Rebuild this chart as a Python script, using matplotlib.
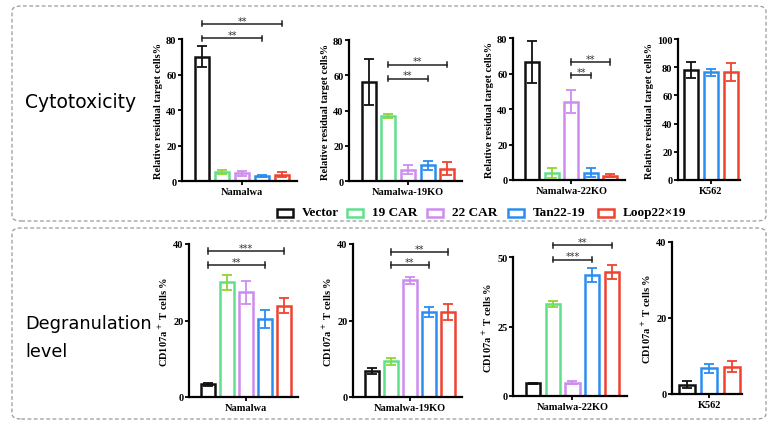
import matplotlib.pyplot as plt
from matplotlib.patches import FancyBboxPatch, Rectangle

W, H = 776, 427

groups = ["Vector", "19 CAR", "22 CAR", "Tan22-19", "Loop22×19"]
colors = ["#111111", "#5ee08c", "#cf8cf0", "#2a8ef0", "#f0432e"]
err_colors = ["#111111", "#8fd633", "#cf8cf0", "#2a8ef0", "#f0432e"]

# %% Cytotoxicity (relative residual target cells %)
cyto_namalwa = [70, 5, 4.3, 3, 3.6]
cyto_namalwa_err = [6, 1.3, 1.5, 0.5, 1.4]
cyto_19ko = [56, 37, 6.5, 9, 7]
cyto_19ko_err = [13, 1, 2.5, 2.5, 3.5]
cyto_22ko = [66.5, 4, 44, 4, 2.5]
cyto_22ko_err = [12, 3, 6.5, 2.5, 0.8]
cyto_k562 = [78, 76.5, 76.5]
cyto_k562_err = [5.5, 2.5, 6.5]

# %% Degranulation (CD107a+ T cells %)
degr_namalwa = [3.3, 30, 27.4, 20.4, 23.9]
degr_namalwa_err = [0.3, 2, 3, 2.3, 2]
degr_19ko = [6.8, 9.3, 30.5, 22.3, 22.2]
degr_19ko_err = [0.8, 1, 1, 1.3, 2]
degr_22ko = [4.5, 33, 4.8, 43.5, 44.5]
degr_22ko_err = [0.3, 1, 0.5, 2.5, 2.5]
degr_k562 = [2.5, 6.8, 7.2]
degr_k562_err = [1, 1.2, 1.5]

k562_groups = [0, 3, 4]

serif = "Liberation Serif"


def px_axes(fig, x0, x1, ytop, ybot):
    return fig.add_axes([x0 / W, 1 - ybot / H, (x1 - x0) / W, (ybot - ytop) / H])


def bracket(ax, i, j, y, label, ymax):
    tick = ymax * 0.018
    ax.plot([i, j], [y, y], color="#222222", lw=1.1, clip_on=False)
    for x in (i, j):
        ax.plot([x, x], [y - tick, y + tick], color="#222222", lw=1.1, clip_on=False)
    ax.text((i + j) / 2, y - ymax * 0.012, label, ha="center", va="bottom",
            fontsize=7, color="#333333", clip_on=False)


def draw_panel(ax, vals, errs, idx, ylim, yticks, ylabel, xlabel, sigs):
    n = len(vals)
    for k, (v, e, g) in enumerate(zip(vals, errs, idx)):
        ax.bar(k, v, width=0.72, color="white", edgecolor=colors[g], linewidth=1.8, zorder=2)
        ax.errorbar(k, v, yerr=e, color=err_colors[g], capsize=3.5, elinewidth=1.3,
                    capthick=1.3, zorder=3)
    ax.set_ylim(*ylim)
    ax.set_yticks(yticks)
    if n == 5:
        ax.set_xlim(-1.0, 4.75)
    else:
        ax.set_xlim(-0.65, 2.45)
    ax.set_xticks([(n - 1) / 2])
    ax.set_xticklabels([xlabel], fontfamily=serif, fontweight="bold", fontsize=8.5)
    ax.set_ylabel(ylabel, fontfamily=serif, fontweight="bold", fontsize=7.5, labelpad=2)
    for s in ("top", "right"):
        ax.spines[s].set_visible(False)
    for s in ("left", "bottom"):
        ax.spines[s].set_linewidth(1.6)
    ax.tick_params(width=1.3, length=3, labelsize=7.5, pad=1)
    for lab in ax.get_yticklabels():
        lab.set_fontfamily(serif)
        lab.set_fontweight("bold")
    for i, j, y, label in sigs:
        bracket(ax, i, j, y, label, ylim[1])


fig = plt.figure(figsize=(W / 100, H / 100), dpi=100)

# dashed frames
for (x0, y0, x1, y1) in [(12, 7, 766, 222), (12, 229, 766, 420)]:
    fig.patches.append(FancyBboxPatch((x0 / W, 1 - y1 / H), (x1 - x0) / W, (y1 - y0) / H,
                                      boxstyle="round,pad=0,rounding_size=0.012",
                                      transform=fig.transFigure, fill=False,
                                      edgecolor="#999999", linestyle=(0, (3, 2)), lw=0.9))

fig.text(25 / W, 1 - 103 / H, "Cytotoxicity", fontsize=13.5, va="center", ha="left",
         family="DejaVu Sans")
fig.text(25 / W, 1 - 338 / H, "Degranulation\nlevel", fontsize=12.8, va="center", ha="left",
         family="DejaVu Sans", linespacing=1.7)

cy_label = "Relative residual target cells%"
cd_label = "CD107a$^+$ T cells %"

ax = px_axes(fig, 182, 297, 40, 182)
draw_panel(ax, cyto_namalwa, cyto_namalwa_err, range(5), (0, 80), [0, 20, 40, 60, 80],
           cy_label, "Namalwa", [(0, 3, 80.5, "**"), (0, 4, 88.5, "**")])
ax = px_axes(fig, 349, 462, 41, 182)
draw_panel(ax, cyto_19ko, cyto_19ko_err, range(5), (0, 80), [0, 20, 40, 60, 80],
           cy_label, "Namalwa-19KO", [(1, 3, 58, "**"), (1, 4, 66, "**")])
ax = px_axes(fig, 513, 625, 39, 181)
draw_panel(ax, cyto_22ko, cyto_22ko_err, range(5), (0, 80), [0, 20, 40, 60, 80],
           cy_label, "Namalwa-22KO", [(2, 3, 59, "**"), (2, 4, 66.5, "**")])
ax = px_axes(fig, 678, 740, 40, 181)
draw_panel(ax, cyto_k562, cyto_k562_err, k562_groups, (0, 100), [0, 20, 40, 60, 80, 100],
           cy_label, "K562", [])

ax = px_axes(fig, 189, 298, 245, 398)
draw_panel(ax, degr_namalwa, degr_namalwa_err, range(5), (0, 40), [0, 20, 40],
           cd_label, "Namalwa", [(0, 3, 34.5, "**"), (0, 4, 38.2, "***")])
ax = px_axes(fig, 353, 462, 245, 398)
draw_panel(ax, degr_19ko, degr_19ko_err, range(5), (0, 40), [0, 20, 40],
           cd_label, "Namalwa-19KO", [(1, 3, 34.5, "**"), (1, 4, 37.9, "**")])
ax = px_axes(fig, 513, 627, 258, 397)
draw_panel(ax, degr_22ko, degr_22ko_err, range(5), (0, 50), [0, 25, 50],
           cd_label, "Namalwa-22KO", [(1, 3, 49, "***"), (1, 4, 54.3, "**")])
ax = px_axes(fig, 672, 742, 243, 395)
draw_panel(ax, degr_k562, degr_k562_err, k562_groups, (0, 40), [0, 20, 40],
           cd_label, "K562", [])

# legend
box_x = [277, 347, 427, 508, 598]
text_x = [302, 372, 452, 533, 623]
for g, bx, tx in zip(range(5), box_x, text_x):
    fig.patches.append(Rectangle((bx / W, 1 - 218 / H), 16 / W, 8 / H, transform=fig.transFigure,
                                 fill=False, edgecolor=colors[g], lw=1.8))
    fig.text(tx / W, 1 - 213 / H, groups[g], fontsize=9.5, fontweight="bold",
             family=serif, va="center", ha="left")

fig.savefig("out.png", dpi=100)
